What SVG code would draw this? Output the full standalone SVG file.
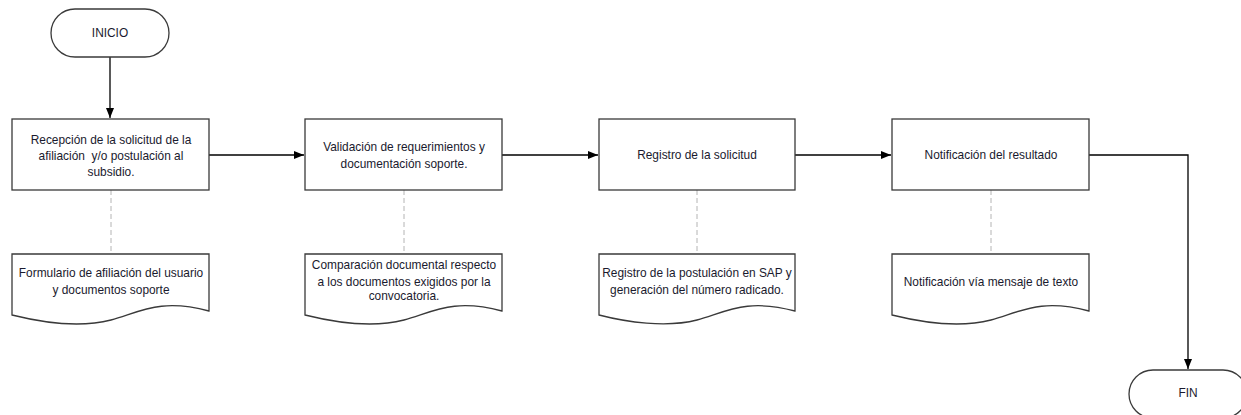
<svg xmlns="http://www.w3.org/2000/svg" width="1241" height="415" viewBox="0 0 1241 415">
<style>
.shape{fill:#fff;stroke:#3a3a3a;stroke-width:1.3}
.conn{fill:none;stroke:#000;stroke-width:1.3}
.dash{fill:none;stroke:#b4b4b4;stroke-width:1;stroke-dasharray:5,3}
text{font-family:"Liberation Sans",Arial,sans-serif;font-size:11.9px;fill:#1a1a2e;text-anchor:middle}
</style>
<defs>
<marker id="arr" viewBox="0 0 10 8" refX="10" refY="4" markerWidth="10" markerHeight="8" markerUnits="userSpaceOnUse" orient="auto">
<path d="M0,0 L10,4 L0,8 Z" fill="#000"/>
</marker>
</defs>
<rect width="1241" height="415" fill="#fff"/>
<g id="connectors">
<path class="conn" d="M110,57 V118" marker-end="url(#arr)"/>
<path class="conn" d="M209,155 H304" marker-end="url(#arr)"/>
<path class="conn" d="M502,155 H598" marker-end="url(#arr)"/>
<path class="conn" d="M795,155 H891" marker-end="url(#arr)"/>
<path class="conn" d="M1089,155 H1188 V369" marker-end="url(#arr)"/>
<path class="dash" d="M111,190 V254"/>
<path class="dash" d="M404,190 V254"/>
<path class="dash" d="M697,190 V254"/>
<path class="dash" d="M991,190 V254"/>
</g>
<g id="inicio">
<rect class="shape" x="51" y="9" width="118" height="48" rx="24" ry="24"/>
<text x="110" y="37">INICIO</text>
</g>
<g id="box1">
<rect class="shape" x="12" y="119" width="197" height="71"/>
<text x="111" y="144">Recepción de la solicitud de la</text>
<text x="111" y="160" xml:space="preserve">afiliación  y/o postulación al</text>
<text x="111" y="176">subsidio.</text>
</g>
<g id="box2">
<rect class="shape" x="305" y="119" width="197" height="71"/>
<text x="404" y="151">Validación de requerimientos y</text>
<text x="404" y="168">documentación soporte.</text>
</g>
<g id="box3">
<rect class="shape" x="599" y="119" width="196" height="71"/>
<text x="697" y="159">Registro de la solicitud</text>
</g>
<g id="box4">
<rect class="shape" x="892" y="119" width="197" height="71"/>
<text x="991" y="159">Notificación del resultado</text>
</g>
<g id="doc1">
<path class="shape" d="M12,254 H209 V311 C160,298 140,312 111,320 C80,328 40,322 12,315 Z"/>
<text x="111" y="277">Formulario de afiliación del usuario</text>
<text x="111" y="294">y documentos soporte</text>
</g>
<g id="doc2">
<path class="shape" d="M305,254 H502 V311 C453,298 433,312 404,320 C373,328 333,322 305,315 Z"/>
<text x="404" y="269">Comparación documental respecto</text>
<text x="404" y="286">a los documentos exigidos por la</text>
<text x="404" y="300">convocatoria.</text>
</g>
<g id="doc3">
<path class="shape" d="M599,254 H795 V311 C746,298 726,312 697,320 C666,328 626,322 599,315 Z"/>
<text x="697" y="277">Registro de la postulación en SAP y</text>
<text x="697" y="294">generación del número radicado.</text>
</g>
<g id="doc4">
<path class="shape" d="M892,254 H1089 V311 C1040,298 1020,312 991,320 C960,328 920,322 892,315 Z"/>
<text x="991" y="286">Notificación vía mensaje de texto</text>
</g>
<g id="fin">
<rect class="shape" x="1129" y="370" width="118" height="48" rx="24" ry="24"/>
<text x="1188" y="397">FIN</text>
</g>
</svg>
